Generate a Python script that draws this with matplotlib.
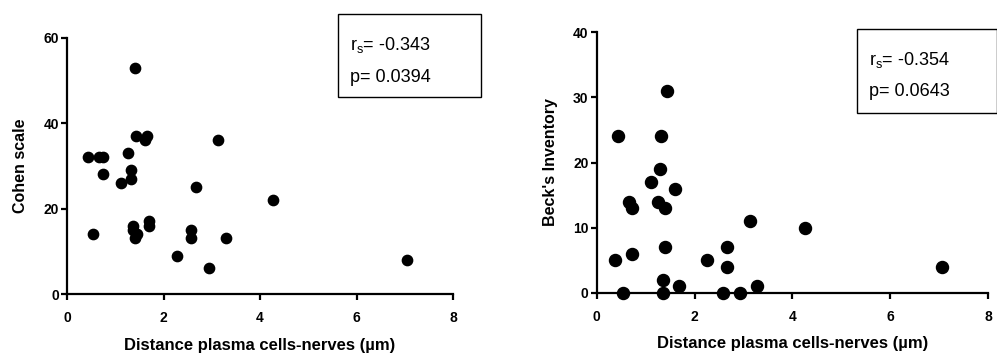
import matplotlib
matplotlib.use("Agg")
import matplotlib.pyplot as plt
from matplotlib.patches import Rectangle

plt.rcParams["font.family"] = ["Liberation Sans", "DejaVu Sans"]
plt.rcParams["mathtext.default"] = "regular"

# -------------------
# Data
# -------------------
cohen_dist = [0.44, 0.54, 0.67, 0.74, 0.75, 1.11, 1.26, 1.33, 1.32, 1.40,
              1.43, 1.37, 1.37, 1.41, 1.46, 1.61, 1.65, 1.70, 1.70, 2.27,
              2.58, 2.57, 2.68, 2.94, 3.13, 3.29, 4.26, 7.05]
cohen_score = [32, 14, 32, 32, 28, 26, 33, 29, 27, 53,
               37, 16, 15, 13, 14, 36, 37, 17, 16, 9,
               15, 13, 25, 6, 36, 13, 22, 8]

beck_dist = [0.37, 0.44, 0.53, 0.67, 0.73, 0.73, 1.11, 1.25, 1.29, 1.31,
             1.36, 1.36, 1.40, 1.40, 1.43, 1.60, 1.68, 2.26, 2.59, 2.66,
             2.66, 2.93, 3.13, 3.28, 4.25, 7.05]
beck_score = [5, 24, 0, 14, 13, 6, 17, 14, 19, 24,
              2, 0, 13, 7, 31, 16, 1, 5, 0, 7,
              4, 0, 11, 1, 10, 4]

x_ticks = [0, 2, 4, 6, 8]
cohen_yticks = [0, 20, 40, 60]
beck_yticks = [0, 10, 20, 30, 40]

x_label = "Distance plasma cells-nerves (µm)"
stats = [("-0.343", "0.0394"), ("-0.354", "0.0643")]

W, H = 997, 355
fig = plt.figure(figsize=(W / 100, H / 100), dpi=100)


def style_axes(ax, yticks, ylabel):
    for s in ["top", "right"]:
        ax.spines[s].set_visible(False)
    for s in ["left", "bottom"]:
        ax.spines[s].set_linewidth(1.6)
    ax.set_xlim(0, 8)
    ax.set_ylim(yticks[0], yticks[-1])
    ax.set_xticks(x_ticks)
    ax.set_yticks(yticks)
    ax.tick_params(direction="out", length=4.3, width=1.6, labelsize=10)
    ax.tick_params(axis="x", pad=8)
    ax.tick_params(axis="y", pad=1.5)
    for lab in ax.get_xticklabels() + ax.get_yticklabels():
        lab.set_fontweight("bold")
    ax.set_xlabel(x_label, fontsize=12, fontweight="bold", labelpad=9)
    ax.set_ylabel(ylabel, fontsize=11.5, fontweight="bold", labelpad=11)


# -------------------
# Left panel
# -------------------
ax1 = fig.add_axes([67 / W, 61 / H, 386 / W, 256.3 / H])
ax1.scatter(cohen_dist, cohen_score, s=55, color="black", clip_on=False, zorder=3)
style_axes(ax1, cohen_yticks, "Cohen scale")

# -------------------
# Right panel
# -------------------
ax2 = fig.add_axes([596.7 / W, 62.3 / H, 391.3 / W, 260.4 / H])
ax2.scatter(beck_dist, beck_score, s=75, color="black", clip_on=False, zorder=3)
style_axes(ax2, beck_yticks, "Beck's Inventory")

# -------------------
# Stats boxes
# -------------------
boxes = [(338, 14, 481, 97), (856.7, 29, 996.5, 112.7)]
for (x0, y0, x1, y1), (r, p) in zip(boxes, stats):
    fig.add_artist(Rectangle((x0 / W, 1 - y1 / H), (x1 - x0) / W, (y1 - y0) / H,
                             transform=fig.transFigure, fill=False,
                             edgecolor="black", linewidth=1.0))
    fig.text((x0 + 12) / W, 1 - (y0 + 31) / H, "r$_s$= " + r, fontsize=13,
             va="center", ha="left")
    fig.text((x0 + 12) / W, 1 - (y0 + 63) / H, "p= " + p, fontsize=13,
             va="center", ha="left")

fig.savefig("out.png", dpi=100)
